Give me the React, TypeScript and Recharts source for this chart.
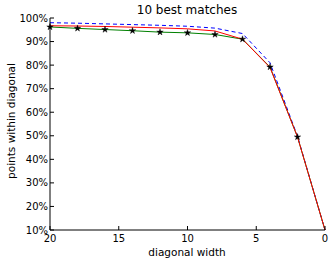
import React from 'react';
import { LineChart, Line, XAxis, YAxis, Symbols } from 'recharts';

const widths = [20, 18, 16, 14, 12, 10, 8, 6, 4, 2, 0];
const greenVals = [96.2, 95.6, 95.1, 94.6, 94.0, 93.7, 93.0, 91.0, 79.2, 49.5, 10];
const redVals = [96.7, 96.6, 96.4, 96.1, 95.8, 95.4, 94.5, 91.0, 79.0, 49.5, 10];
const blueVals = [98.0, 97.8, 97.5, 97.2, 96.9, 96.5, 95.7, 93.4, 81.0, 49.8, 10];
// green run has star markers at 20..2, none at 0
const starred = [true, true, true, true, true, true, true, true, true, true, false];
const xTicks = [0, 5, 10, 15, 20];
const yTicks = [10, 20, 30, 40, 50, 60, 70, 80, 90, 100];

const data = widths.map((w, i) => ({
  w,
  green: greenVals[i],
  red: redVals[i],
  blue: blueVals[i],
}));

const font = 'DejaVu Sans, sans-serif';

const starDot = (props: any) => {
  const { cx, cy, index } = props;
  if (!starred[index] || cx == null || cy == null) return <g key={`s${index}`} />;
  return <Symbols key={`s${index}`} cx={cx} cy={cy} type="star" size={13} fill="#000" stroke="#000" strokeWidth={0.4} />;
};

export default function App() {
  const tickStyle = { fill: '#000', fontSize: 10, fontFamily: font };
  return (
    <div style={{ position: 'absolute', left: 0, top: 0, width: 333, height: 264, background: '#fff' }}>
      <LineChart width={333} height={264} data={data} margin={{ top: 18, right: 8, bottom: 14, left: 10 }}>
        <XAxis
          xAxisId="b"
          dataKey="w"
          type="number"
          domain={[0, 20]}
          reversed
          ticks={xTicks}
          height={20}
          interval={0}
          stroke="#000"
          tickSize={-4}
          tickMargin={9}
          tick={tickStyle}
        />
        <XAxis
          xAxisId="t"
          dataKey="w"
          type="number"
          orientation="top"
          domain={[0, 20]}
          reversed
          ticks={xTicks}
          height={0}
          stroke="#000"
          tickSize={-4}
          tickFormatter={() => ''}
        />
        <YAxis
          yAxisId="l"
          type="number"
          domain={[10, 100]}
          ticks={yTicks}
          interval={0}
          width={40}
          stroke="#000"
          tickSize={-4}
          tickMargin={6}
          tick={tickStyle}
          tickFormatter={(v) => `${v}%`}
        />
        <YAxis
          yAxisId="r"
          orientation="right"
          type="number"
          domain={[10, 100]}
          ticks={yTicks}
          width={0}
          stroke="#000"
          tickSize={-4}
          tickFormatter={() => ''}
        />
        <Line xAxisId="b" yAxisId="l" dataKey="blue" stroke="#0000ff" strokeWidth={1} strokeDasharray="4 3" dot={false} isAnimationActive={false} />
        <Line xAxisId="b" yAxisId="l" dataKey="green" stroke="#008000" strokeWidth={1} dot={starDot} activeDot={false} isAnimationActive={false} />
        <Line xAxisId="b" yAxisId="l" dataKey="red" stroke="#ff0000" strokeWidth={1} dot={false} isAnimationActive={false} />
        <text x={187} y={14} textAnchor="middle" fontSize={12} fontFamily={font} fill="#000">10 best matches</text>
        <text x={187} y={256} textAnchor="middle" fontSize={10.5} fontFamily={font} fill="#000">diagonal width</text>
        <text x={12} y={121} textAnchor="middle" fontSize={10.5} fontFamily={font} fill="#000" transform="rotate(-90 12 121)" dominantBaseline="middle">points within diagonal</text>
      </LineChart>
    </div>
  );
}
